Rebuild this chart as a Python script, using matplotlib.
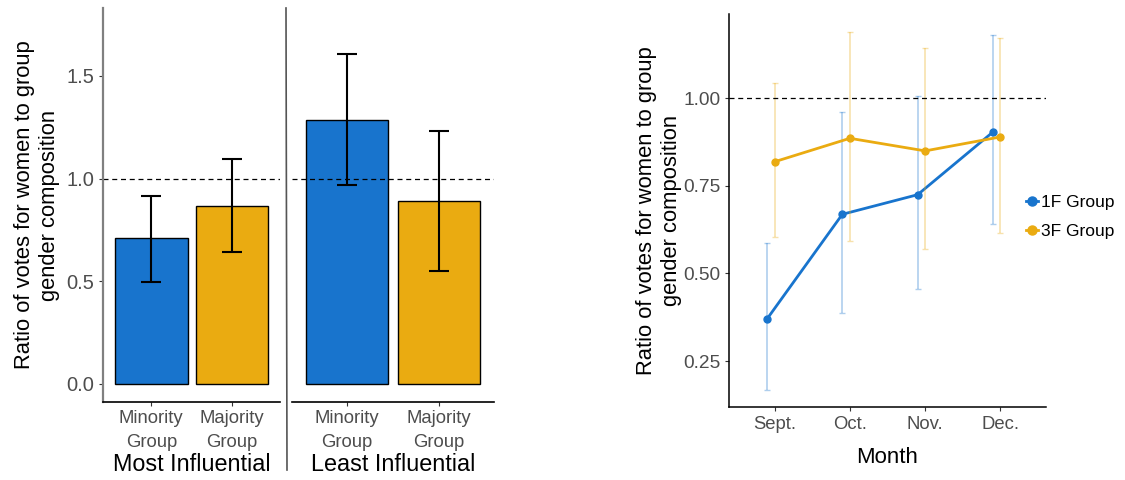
import numpy as np
import matplotlib.pyplot as plt
from matplotlib.lines import Line2D

plt.rcParams['font.family'] = ['Liberation Sans', 'DejaVu Sans']

# ---- data: bar panels ----
groups = ['Minority\nGroup', 'Majority\nGroup']
panels = ['Most Influential', 'Least Influential']
bar_vals = [[0.708, 0.868], [1.286, 0.889]]
bar_lo = [[0.498, 0.644], [0.966, 0.549]]
bar_hi = [[0.917, 1.094], [1.607, 1.232]]

# ---- data: monthly lines ----
months = ['Sept.', 'Oct.', 'Nov.', 'Dec.']
f1_vals = [0.370, 0.669, 0.725, 0.904]
f1_lo = [0.167, 0.386, 0.455, 0.640]
f1_hi = [0.588, 0.960, 1.007, 1.180]
f3_vals = [0.819, 0.886, 0.850, 0.890]
f3_lo = [0.605, 0.592, 0.570, 0.617]
f3_hi = [1.043, 1.190, 1.143, 1.173]

blue = '#1874CD'
gold = '#EAAB11'
tick_gray = '#4D4D4D'
ylab = 'Ratio of votes for women to group\ngender composition'

fig = plt.figure(figsize=(11.25, 4.8), dpi=100)

# bar panels: [left, bottom, width, height] in figure fraction
rects = [[0.0916, 0.1625, 0.1573, 0.8208], [0.2596, 0.1625, 0.1796, 0.8208]]
x = np.arange(1, len(groups) + 1)
for i, (rect, name) in enumerate(zip(rects, panels)):
    ax = fig.add_axes(rect)
    vals = np.array(bar_vals[i])
    err = [vals - np.array(bar_lo[i]), np.array(bar_hi[i]) - vals]
    ax.bar(x, vals, width=0.9, color=[blue, gold], edgecolor='black', linewidth=1)
    ax.errorbar(x, vals, yerr=err, fmt='none', ecolor='black', elinewidth=1.5,
                capsize=7, capthick=1.5)
    ax.axhline(1.0, color='black', linestyle=(0, (4, 3)), linewidth=0.9)
    ax.set_xlim(0.4, 2.6)
    ax.set_ylim(-0.088, 1.83)
    ax.set_xticks(x)
    ax.set_xticklabels(groups, color=tick_gray, fontsize=13.3, linespacing=1.55)
    ax.set_xlabel(name, fontsize=16.8, labelpad=1)
    ax.spines['top'].set_visible(False)
    ax.spines['right'].set_visible(False)
    ax.spines['bottom'].set_linewidth(1.2)
    ax.tick_params(axis='x', length=3, color='#333333', pad=3)
    if i == 0:
        ax.set_yticks([0.0, 0.5, 1.0, 1.5])
        ax.set_yticklabels(['0.0', '0.5', '1.0', '1.5'], color=tick_gray, fontsize=14.5)
        ax.tick_params(axis='y', length=3, color='#333333')
        ax.spines['left'].set_color('#808080')
        ax.spines['left'].set_linewidth(1.6)
        ax.set_ylabel(ylab, fontsize=15.8, linespacing=1.25)
        ax.yaxis.set_label_coords(-0.245, 0.5)
    else:
        ax.set_yticks([])
        ax.spines['left'].set_visible(False)

# separator between the two bar panels
fig.add_artist(Line2D([286 / 1125, 287 / 1125], [1 - 8 / 480, 1 - 470 / 480],
                      color='#555555', linewidth=1.2))

# ---- line chart ----
ax2 = fig.add_axes([0.6483, 0.1515, 0.2812, 0.8194])
mx = np.arange(1, len(months) + 1)
for xs, vals, lo, hi, col, lab in [(mx - 0.1, f1_vals, f1_lo, f1_hi, blue, '1F Group'),
                                    (mx + 0.0, f3_vals, f3_lo, f3_hi, gold, '3F Group')]:
    vals = np.array(vals)
    err = [vals - np.array(lo), np.array(hi) - vals]
    ax2.errorbar(xs, vals, yerr=err, fmt='none', ecolor=col, alpha=0.35,
                 elinewidth=1.2, capsize=2, capthick=1)
    ax2.plot(xs, vals, color=col, linewidth=2, marker='o', markersize=5, label=lab)

ax2.axhline(1.0, color='black', linestyle=(0, (4, 3)), linewidth=0.9)
ax2.set_xlim(0.4, 4.6)
ax2.set_ylim(0.118, 1.241)
ax2.set_xticks(mx)
ax2.set_xticklabels(months, color=tick_gray, fontsize=13.3)
ax2.set_yticks([0.25, 0.50, 0.75, 1.00])
ax2.set_yticklabels(['0.25', '0.50', '0.75', '1.00'], color=tick_gray, fontsize=13.8)
ax2.tick_params(length=3, color='#333333')
ax2.set_xlabel('Month', fontsize=16, labelpad=10)
ax2.set_ylabel(ylab, fontsize=15.8, linespacing=1.25)
ax2.yaxis.set_label_coords(-0.15, 0.5)
ax2.spines['top'].set_visible(False)
ax2.spines['right'].set_visible(False)
ax2.spines['left'].set_linewidth(1.1)
ax2.spines['bottom'].set_linewidth(1.1)
fig.legend(*ax2.get_legend_handles_labels(), loc='center left',
           bbox_to_anchor=(1026 / 1125, 1 - 217 / 480), frameon=False,
           fontsize=12.5, handlelength=0.7, handletextpad=0.15, labelspacing=0.75,
           markerscale=1.3, borderpad=0, borderaxespad=0)

fig.savefig('out.png', dpi=100)
